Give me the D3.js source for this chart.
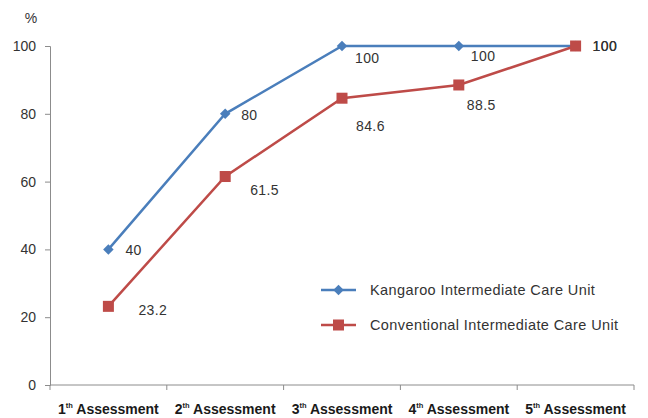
<!DOCTYPE html>
<html>
<head>
<meta charset="utf-8">
<script src="https://cdn.jsdelivr.net/npm/d3@7"></script>
<style>
  html, body { margin: 0; padding: 0; background: #fff; }
  svg { display: block; font-family: "Liberation Sans", Arial, sans-serif; }
</style>
</head>
<body>
<svg id="chart" width="648" height="418"></svg>
<script>
// Assessment rounds (ordinal number + superscript suffix)
const assessmentNums = ["1", "2", "3", "4", "5"];
const assessmentSuffix = "th";
const assessmentWord = "Assessment";

// Percentage per assessment round
const kangarooValues = [40, 80, 100, 100, 100];
const conventionalValues = [23.2, 61.5, 84.6, 88.5, 100];

const seriesNames = ["Kangaroo Intermediate Care Unit", "Conventional Intermediate Care Unit"];
const yTicks = [0, 20, 40, 60, 80, 100];

// Label nudges relative to each point (layout only)
const kangarooNudge = [[17, 6], [16, 6], [13, 17], [12, 15], [17, 5]];
const conventionalNudge = [[30, 9], [25, 18], [14, 33], [8, 25], [17, 5]];

const svg = d3.select("#chart");
const margin = { left: 50, right: 14, top: 46, bottom: 33 };
const W = 648, H = 418;

const x = d3.scaleBand()
  .domain(assessmentNums)
  .range([margin.left, W - margin.right])
  .paddingInner(0).paddingOuter(0);

const y = d3.scaleLinear()
  .domain([0, 100])
  .range([H - margin.bottom, margin.top]);

const axisColor = "#8c8c8c";
const textColor = "#333";

// Y axis
const yAxis = svg.append("g")
  .attr("transform", `translate(${margin.left},0)`)
  .call(d3.axisLeft(y).tickValues(yTicks).tickSize(5).tickPadding(9).tickFormat(d3.format("d")));
yAxis.select(".domain").attr("stroke", axisColor);
yAxis.selectAll(".tick line").attr("stroke", axisColor);
yAxis.selectAll(".tick text")
  .attr("fill", textColor).attr("font-size", 14)
  .attr("font-family", "'Liberation Sans', Arial, sans-serif");

svg.append("text")
  .attr("x", 31).attr("y", 23)
  .attr("text-anchor", "middle")
  .attr("font-size", 14).attr("fill", textColor)
  .text("%");

// X axis: baseline with tick marks at category boundaries
const xAxisG = svg.append("g").attr("transform", `translate(0,${y(0)})`);
xAxisG.append("line")
  .attr("x1", margin.left).attr("x2", W - margin.right)
  .attr("stroke", axisColor);
const boundaries = assessmentNums.map(d => x(d)).concat([x(assessmentNums[assessmentNums.length - 1]) + x.bandwidth()]);
xAxisG.selectAll("line.tk")
  .data(boundaries)
  .join("line")
  .attr("class", "tk")
  .attr("x1", d => d).attr("x2", d => d)
  .attr("y1", 0).attr("y2", 5)
  .attr("stroke", axisColor);

const xLabels = xAxisG.selectAll("text.xl")
  .data(assessmentNums)
  .join("text")
  .attr("class", "xl")
  .attr("x", d => x(d) + x.bandwidth() / 2)
  .attr("y", 29)
  .attr("text-anchor", "middle")
  .attr("font-size", 14)
  .attr("font-weight", "bold")
  .attr("fill", "#1a1a1a");
xLabels.append("tspan").text(d => d);
xLabels.append("tspan").attr("font-size", 7.5).attr("dy", -6).text(assessmentSuffix);
xLabels.append("tspan").attr("dy", 6).text(" " + assessmentWord);

// Series
const cx = d => x(d) + x.bandwidth() / 2;
const series = [
  { name: seriesNames[0], values: kangarooValues, color: "#4a7ebb", marker: "diamond", nudge: kangarooNudge },
  { name: seriesNames[1], values: conventionalValues, color: "#be4b48", marker: "square", nudge: conventionalNudge }
];

const line = d3.line()
  .x((d, i) => cx(assessmentNums[i]))
  .y(d => y(d));

function drawMarker(g, type, color) {
  if (type === "diamond") {
    g.append("path")
      .attr("d", d3.symbol(d3.symbolDiamond2, 70)())
      .attr("fill", color);
  } else {
    g.append("rect")
      .attr("x", -5.5).attr("y", -5.5).attr("width", 11).attr("height", 11)
      .attr("fill", color);
  }
}

series.forEach(s => {
  svg.append("path")
    .datum(s.values)
    .attr("fill", "none")
    .attr("stroke", s.color)
    .attr("stroke-width", 2.5)
    .attr("d", line);
});

series.forEach(s => {
  s.values.forEach((v, i) => {
    const g = svg.append("g")
      .attr("transform", `translate(${cx(assessmentNums[i])},${y(v)})`);
    drawMarker(g, s.marker, s.color);
  });
});

// Value labels
series.forEach(s => {
  s.values.forEach((v, i) => {
    svg.append("text")
      .attr("x", cx(assessmentNums[i]) + s.nudge[i][0])
      .attr("y", y(v) + s.nudge[i][1])
      .attr("font-size", 14)
      .attr("letter-spacing", 0.4)
      .attr("fill", textColor)
      .text(v);
  });
});

// Legend
const legend = svg.append("g");
series.forEach((s, i) => {
  const ly = 290 + i * 35;
  const lg = legend.append("g");
  lg.append("line")
    .attr("x1", 321).attr("x2", 356)
    .attr("y1", ly).attr("y2", ly)
    .attr("stroke", s.color).attr("stroke-width", 2.5);
  const m = lg.append("g").attr("transform", `translate(338.5,${ly})`);
  drawMarker(m, s.marker, s.color);
  lg.append("text")
    .attr("x", 370).attr("y", ly + 5)
    .attr("font-size", 14.5)
    .attr("letter-spacing", 0.4)
    .attr("fill", textColor)
    .text(s.name);
});
</script>
</body>
</html>
